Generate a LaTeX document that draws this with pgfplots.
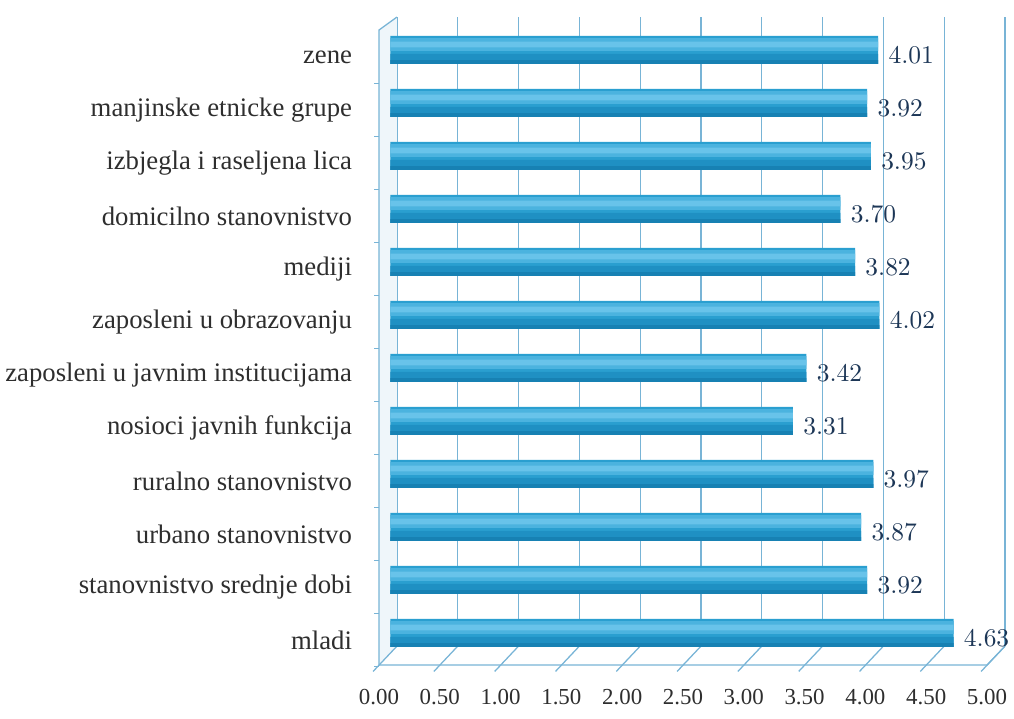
\documentclass[border=0pt]{standalone}
\usepackage{fontspec}
\setmainfont{Liberation Serif}
\usepackage{pgfplots}
\usepackage{pgfplotstable}
\pgfplotsset{compat=1.18}
\definecolor{gridblue}{HTML}{78B4D6}
\definecolor{barbase}{HTML}{2A9FD0}
\definecolor{barlight}{HTML}{4BB3DF}
\definecolor{barlighter}{HTML}{68C3EA}
\definecolor{bardark}{HTML}{1F90C3}
\definecolor{bardarker}{HTML}{1781B3}
\definecolor{valnavy}{HTML}{1C3656}
\definecolor{labgray}{HTML}{2E2E2E}

% y = position from the bottom (mladi) to the top (zene)
\pgfplotstableread{
val  y
4.63 0
3.92 1
3.87 2
3.97 3
3.31 4
3.42 5
4.02 6
3.82 7
3.70 8
3.95 9
3.92 10
4.01 11
}\scores

\pgfplotsset{
  layer/.style={xbar, draw=none, xshift=-0.09cm},
}

\begin{document}
\begin{tikzpicture}
\begin{axis}[
  scale only axis,
  width=8.395cm, height=8.685cm,
  xmin=0, xmax=5, ymin=-0.25, ymax=11.62,
  xtick={0,0.5,...,5},
  ytick={0,...,11},
  yticklabels={mladi, stanovnistvo srednje dobi, urbano stanovnistvo,
    ruralno stanovnistvo, nosioci javnih funkcija,
    zaposleni u javnim institucijama, zaposleni u obrazovanju, mediji,
    domicilno stanovnistvo, izbjegla i raseljena lica,
    manjinske etnicke grupe, zene},
  axis line style={draw=none},
  major tick length=0pt,
  xmajorgrids,
  major x grid style={gridblue, line width=0.5pt},
  xticklabel={\pgfmathprintnumber[fixed,fixed zerofill,precision=2,assume math mode=true]{\tick}},
  xticklabel style={font=\fontsize{9}{10}\selectfont, text=labgray,
    xshift=-0.249cm, yshift=-0.469cm},
  yticklabel style={font=\fontsize{10.5}{12}\selectfont, text=labgray,
    xshift=-0.497cm, yshift=-0.097cm},
  clip=false,
]
% left wall and floor
\fill[gridblue!12] (axis cs:0,-0.25) -- (axis cs:0,11.62)
  -- ([shift={(-0.249cm,-0.18cm)}]axis cs:0,11.62)
  -- ([shift={(-0.249cm,-0.262cm)}]axis cs:0,-0.25) -- cycle;
\draw[gridblue, line width=0.5pt] (axis cs:0,11.62)
  -- ([shift={(-0.249cm,-0.18cm)}]axis cs:0,11.62)
  -- ([shift={(-0.249cm,-0.262cm)}]axis cs:0,-0.25)
  -- ([shift={(-0.249cm,-0.262cm)}]axis cs:5,-0.25)
  -- (axis cs:5,-0.25);
\pgfplotsinvokeforeach{0,0.5,...,5}{
  \draw[gridblue, line width=0.5pt] (axis cs:#1,-0.25)
    -- ([shift={(-0.33cm,-0.35cm)}]axis cs:#1,-0.25);
}
\pgfplotsinvokeforeach{-0.5,0.5,...,10.5}{
  \draw[gridblue, line width=0.5pt] ([shift={(-0.249cm,-0.10cm)}]axis cs:0,#1)
    -- ([shift={(-0.32cm,-0.10cm)}]axis cs:0,#1);
}
\coordinate (bl) at (rel axis cs:0,0);
\coordinate (tr) at (rel axis cs:1,1);

% bars, drawn in bands to give the tube look
\addplot[layer, bar width=0.53, bar shift=0, fill=barbase]
  table[x=val, y=y] {\scores};
\addplot[layer, bar width=0.24, bar shift=0.10, fill=barlight]
  table[x=val, y=y] {\scores};
\addplot[layer, bar width=0.11, bar shift=0.10, fill=barlighter]
  table[x=val, y=y] {\scores};
\addplot[layer, bar width=0.19, bar shift=-0.17, fill=bardark]
  table[x=val, y=y] {\scores};
\addplot[layer, bar width=0.07, bar shift=-0.23, fill=bardarker]
  table[x=val, y=y] {\scores};

\addplot[draw=none, mark=none,
  nodes near coords={\pgfmathprintnumber[fixed,fixed zerofill,precision=2]{\pgfplotspointmeta}},
  point meta=x,
  every node near coord/.append style={anchor=west, text=valnavy,
    font=\fontsize{10}{12}\selectfont, xshift=-0.07cm, yshift=-0.07cm}]
  table[x=val, y=y] {\scores};
\end{axis}
\pgfresetboundingbox
\path ([shift={(-5.481cm,-0.994cm)}]bl) rectangle ([shift={(0.124cm,0.235cm)}]tr);
\end{tikzpicture}
\end{document}
